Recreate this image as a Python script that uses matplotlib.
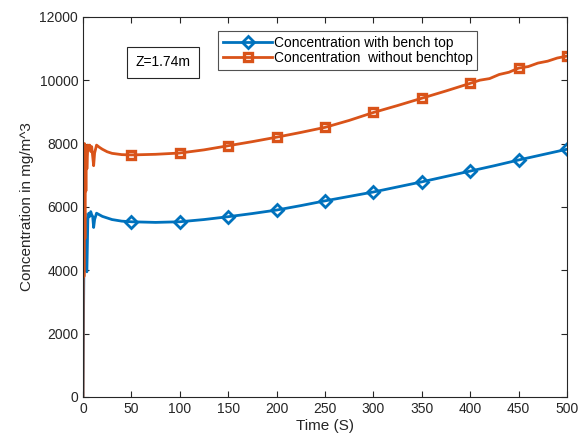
import matplotlib
matplotlib.use("Agg")
import matplotlib.pyplot as plt

plt.rcParams['font.family'] = ['Liberation Sans', 'DejaVu Sans']

# Concentration without benchtop (orange)
t_orange = [0, 0.5, 1, 1.5, 2, 2.5, 3, 3.5, 4, 5, 6, 7, 8, 9, 10, 11, 12, 14, 17, 20, 25, 30, 40,
            50, 75, 100, 125, 150, 175, 200, 225, 250, 275, 300, 325, 350, 375, 400,
            410, 420, 430, 440, 450, 460, 470, 480, 490, 500]
c_orange = [0, 7900, 3800, 8000, 5000, 7950, 6500, 7900, 7200, 7950, 7800, 7950, 7750, 7900, 7600,
            7300, 7700, 7950, 7880, 7820, 7740, 7690, 7650,
            7640, 7660, 7700, 7800, 7930, 8060, 8200, 8350, 8510, 8730, 8980, 9200, 9430, 9660, 9900,
            10000, 10050, 10180, 10250, 10380, 10430, 10540, 10600, 10700, 10760]

# Concentration with bench top (blue)
t_blue = [0, 1, 2, 3, 4, 5, 6, 7, 8, 9, 10, 11, 12, 14, 17, 20, 25, 30, 40,
          50, 75, 100, 125, 150, 175, 200, 225, 250, 275, 300, 325, 350, 375, 400,
          425, 450, 475, 500]
c_blue = [0, 4500, 5800, 4200, 3950, 5600, 5800, 5700, 5850, 5750, 5700, 5350, 5600, 5800, 5750,
          5700, 5650, 5600, 5550,
          5530, 5510, 5530, 5600, 5690, 5790, 5900, 6040, 6190, 6330, 6470, 6630, 6790, 6960, 7130,
          7300, 7480, 7650, 7820]

marker_times = [50, 100, 150, 200, 250, 300, 350, 400, 450, 500]

blue = '#0072BD'
orange = '#D95319'

fig = plt.figure(figsize=(5.82, 4.43), dpi=100)
ax = fig.add_axes([0.1426, 0.104, 0.8316, 0.858])

mb = [t_blue.index(t) for t in marker_times]
mo = [t_orange.index(t) for t in marker_times]

ax.plot(t_blue, c_blue, color=blue, lw=2, marker='D', markevery=mb, ms=6,
        mfc='none', mec=blue, mew=2, label='Concentration with bench top')
ax.plot(t_orange, c_orange, color=orange, lw=2, marker='s', markevery=mo, ms=5.5,
        mfc='none', mec=orange, mew=2.4, label='Concentration  without benchtop')

ax.set_xlim(0, 500)
ax.set_ylim(0, 12000)
ax.set_xticks(range(0, 501, 50))
ax.set_yticks(range(0, 12001, 2000))
ax.tick_params(direction='in', top=True, right=True, labelsize=10, length=4, width=0.8,
               colors='#262626')
for s in ax.spines.values():
    s.set_linewidth(0.8)
    s.set_color('#262626')
ax.set_xlabel('Time (S)', fontsize=11, color='#262626', labelpad=2)
ax.set_ylabel('Concentration in mg/m^3', fontsize=11, color='#262626')

leg = ax.legend(loc='upper left', bbox_to_anchor=(0.279, 0.963), fontsize=9.9,
                frameon=True, fancybox=False, edgecolor='#262626', handlelength=3.6,
                borderpad=0.35, labelspacing=0.1, handletextpad=0.1, borderaxespad=0)
leg.get_frame().set_linewidth(0.8)

ax.text(0.108, 0.88, 'Z=1.74m', transform=ax.transAxes, fontsize=10, va='center',
        ha='left', bbox=dict(boxstyle='square,pad=0.6', fc='white', ec='#262626', lw=0.8))

fig.savefig('out.png', dpi=100)
